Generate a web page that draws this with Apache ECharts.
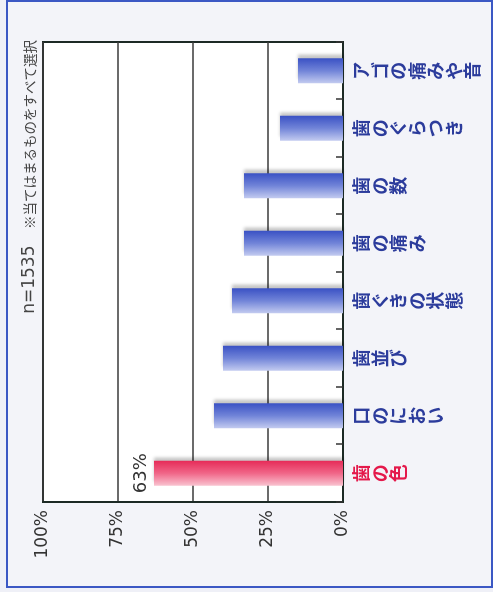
<!DOCTYPE html>
<html>
<head>
<meta charset="utf-8">
<script src="https://cdn.jsdelivr.net/npm/echarts@6/dist/echarts.min.js"></script>
<style>
  html, body { margin: 0; padding: 0; width: 493px; height: 592px; overflow: hidden; background: #eff0f7; }
  #frame { position: absolute; left: 6px; top: 0px; width: 483px; height: 584px; border: 2px solid #3b58c4; background: #f3f4f9; }
  #chart { position: absolute; left: 0; top: 0; width: 592px; height: 493px;
           transform-origin: 0 0; transform: translate(0px, 592px) rotate(-90deg); }
</style>
</head>
<body>
<div id="frame"></div>
<div id="chart"></div>
<script>
// Data (categories listed from the bottom of the picture to the top)
const categories = ['歯の色', '口のにおい', '歯並び', '歯ぐきの状態', '歯の痛み', '歯の数', '歯のぐらつき', 'アゴの痛みや音'];
const values = [63, 43, 40, 37, 33, 33, 21, 15];
const highlightIndex = 0;
const valueMin = 0;
const valueMax = 100;
const valueStep = 25;
const noteCount = 'n=1535';
const noteText = '※当てはまるものをすべて選択';

const blueGrad = new echarts.graphic.LinearGradient(0, 0, 1, 0, [
  { offset: 0, color: '#c3cbf0' },
  { offset: 0.5, color: '#7184d8' },
  { offset: 1, color: '#3a51c4' }
]);
const pinkGrad = new echarts.graphic.LinearGradient(0, 0, 1, 0, [
  { offset: 0, color: '#f9c3d0' },
  { offset: 0.5, color: '#f06688' },
  { offset: 1, color: '#e62b58' }
]);

const chart = echarts.init(document.getElementById('chart'));
chart.setOption({
  animation: false,
  grid: { left: 90, right: 42, top: 43, bottom: 150, show: true, backgroundColor: '#ffffff', borderColor: '#1c2a25', borderWidth: 2 },
  xAxis: {
    type: 'category',
    data: categories,
    axisLine: { lineStyle: { color: '#1c2a25', width: 2 } },
    axisTick: { show: true, inside: true, length: 7, interval: 0, lineStyle: { color: '#333', width: 1.5 } },
    axisLabel: {
      interval: 0, margin: 9, fontSize: 18, lineHeight: 18.5, fontWeight: 'bold',
      fontFamily: '"Noto Sans CJK JP", sans-serif',
      formatter: v => v.split('').join('\n'),
      color: (v, i) => (categories.indexOf(v) === highlightIndex ? '#e4194b' : '#2c3c9c')
    }
  },
  yAxis: {
    type: 'value', min: valueMin, max: valueMax, interval: valueStep,
    axisLine: { show: true, lineStyle: { color: '#1c2a25', width: 2 } },
    axisTick: { show: false },
    axisLabel: { formatter: '{value}%', fontSize: 17, margin: 8, color: '#333', fontFamily: '"DejaVu Sans", sans-serif' },
    splitLine: { show: true, lineStyle: { color: '#3a3a3a', width: 1.5 } }
  },
  graphic: [{
    type: 'text', right: 40, top: 21,
    style: {
      text: '{a|' + noteCount + '}{s|　 }{b|' + noteText + '}',
      rich: {
        a: { font: '17px "DejaVu Sans", sans-serif', fill: '#444' },
        s: { font: '13.5px "Noto Sans CJK JP", sans-serif', fill: '#444' },
        b: { font: '13.5px "Noto Sans CJK JP", sans-serif', fill: '#444' }
      }
    }
  }],
  series: [{
    type: 'bar',
    barWidth: 25,
    data: values.map((v, i) => ({
      value: v,
      itemStyle: { color: i === highlightIndex ? pinkGrad : blueGrad },
      label: i === highlightIndex
        ? { show: true, position: 'top', distance: 4, formatter: '{c}%', fontSize: 18, color: '#333', fontFamily: '"DejaVu Sans", sans-serif' }
        : { show: false }
    })),
    itemStyle: { shadowColor: 'rgba(0,0,0,0.22)', shadowBlur: 3, shadowOffsetX: 4 }
  }]
});
</script>
</body>
</html>
